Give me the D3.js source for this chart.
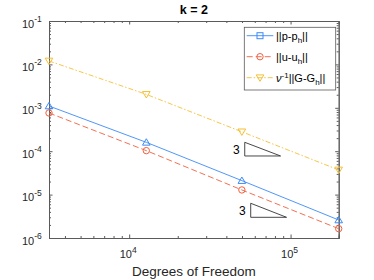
<!DOCTYPE html>
<html>
<head>
<meta charset="utf-8">
<title>k = 2</title>
<script src="https://cdnjs.cloudflare.com/ajax/libs/d3/7.8.5/d3.min.js"></script>
<style>
    body { margin: 0; background: #fff; }
    text { font-family: "Liberation Sans", Arial, sans-serif; }
</style>
</head>
<body>
<script>
    const width = 374
    const height = 280
    const margin = {left: 49, right: 35.3, top: 21, bottom: 42}

    const dofs = [3186, 12770, 49920, 198700]
    const errP = [1.1e-3, 1.6e-4, 2.1e-5, 2.6e-6]
    const errU = [7.6e-4, 1.03e-4, 1.28e-5, 1.64e-6]
    const errG = [1.2e-2, 2.04e-3, 2.8e-4, 3.7e-5]
    const yMajor = [-1, -2, -3, -4, -5, -6]
    const xMajor = [4, 5]
    // slope triangles: [log10 x left, log10 x right, log10 y bottom, log10 y top]
    const slopes = [[4.716, 4.938, -4.11, -3.795], [4.753, 4.975, -5.523, -5.2]]
    const slopeLabel = "3"

    const series = [
        {name: "p", vals: errP, color: "#3d8af7", dash: null, mark: "up", legMark: "square"},
        {name: "u", vals: errU, color: "#f0603f", dash: "6,3", mark: "circle", legMark: "circle"},
        {name: "G", vals: errG, color: "#f4bf35", dash: "5,2,1.5,2", mark: "down", legMark: "down"}
    ]

    const svg = d3.select("body").append("svg")
        .attr("width", width)
        .attr("height", height)

    const x = d3.scaleLog()
        .domain(d3.extent(dofs))
        .range([margin.left, width - margin.right])
    const y = d3.scaleLog()
        .domain([1e-6, 1e-1])
        .range([height - margin.bottom, margin.top])

    const axisColor = "#5a5a5a"

    function minorTicks(lo, hi) {
        let out = []
        for (let e = Math.floor(lo); e <= Math.ceil(hi); e++)
            for (let m = 2; m < 10; m++) {
                let v = m * Math.pow(10, e)
                if (Math.log10(v) >= lo && Math.log10(v) <= hi) out.push(v)
            }
        return out
    }
    const xd = x.domain().map(Math.log10)
    const xMinor = minorTicks(xd[0], xd[1])
    const yMinor = minorTicks(-6, -1)

    function styleAxis(g) {
        g.select(".domain").attr("stroke", axisColor)
        g.selectAll(".tick line").attr("stroke", axisColor)
    }

    const x0 = margin.left, x1 = width - margin.right
    const y0 = height - margin.bottom, y1 = margin.top

    // minor ticks on all four sides
    svg.append("g").attr("transform", `translate(0,${y0})`)
        .call(d3.axisBottom(x).tickValues(xMinor).tickSize(-2).tickFormat(""))
        .call(styleAxis)
    svg.append("g").attr("transform", `translate(0,${y1})`)
        .call(d3.axisTop(x).tickValues(xMinor).tickSize(-2).tickFormat(""))
        .call(styleAxis)
    svg.append("g").attr("transform", `translate(${x0},0)`)
        .call(d3.axisLeft(y).tickValues(yMinor).tickSize(-2).tickFormat(""))
        .call(styleAxis)
    svg.append("g").attr("transform", `translate(${x1},0)`)
        .call(d3.axisRight(y).tickValues(yMinor).tickSize(-2).tickFormat(""))
        .call(styleAxis)

    // major ticks
    svg.append("g").attr("transform", `translate(0,${y0})`)
        .call(d3.axisBottom(x).tickValues(xMajor.map(e => Math.pow(10, e))).tickSize(-3.5).tickFormat(""))
        .call(styleAxis)
    svg.append("g").attr("transform", `translate(0,${y1})`)
        .call(d3.axisTop(x).tickValues(xMajor.map(e => Math.pow(10, e))).tickSize(-3.5).tickFormat(""))
        .call(styleAxis)
    svg.append("g").attr("transform", `translate(${x0},0)`)
        .call(d3.axisLeft(y).tickValues(yMajor.map(e => Math.pow(10, e))).tickSize(-3.5).tickFormat(""))
        .call(styleAxis)
    svg.append("g").attr("transform", `translate(${x1},0)`)
        .call(d3.axisRight(y).tickValues(yMajor.map(e => Math.pow(10, e))).tickSize(-3.5).tickFormat(""))
        .call(styleAxis)

    // tick labels with superscripts
    xMajor.forEach(e => {
        let t = svg.append("text")
            .attr("x", x(Math.pow(10, e)) - 9.5)
            .attr("y", y0 + 20)
            .attr("font-size", 11)
            .attr("fill", "#262626")
        t.append("tspan").text("10")
        t.append("tspan").attr("dy", -5.5).attr("font-size", 8.5).text(e)
    })
    yMajor.forEach(e => {
        let t = svg.append("text")
            .attr("x", x0 - 27)
            .attr("y", y(Math.pow(10, e)) + 6.5)
            .attr("font-size", 11)
            .attr("fill", "#262626")
        t.append("tspan").text("10")
        t.append("tspan").attr("dy", -5.5).attr("font-size", 8.5).text(e)
    })

    // title and axis label
    svg.append("text")
        .attr("x", (x0 + x1) / 2)
        .attr("y", 14)
        .attr("text-anchor", "middle")
        .attr("font-size", 12.5)
        .attr("font-weight", "bold")
        .attr("fill", "#000")
        .text("k = 2")
    svg.append("text")
        .attr("x", (x0 + x1) / 2)
        .attr("y", 276)
        .attr("text-anchor", "middle")
        .attr("font-size", 13.5)
        .attr("fill", "#262626")
        .text("Degrees of Freedom")

    // markers
    function drawMarker(g, type, cx, cy, color) {
        if (type === "circle") {
            g.append("circle").attr("cx", cx).attr("cy", cy).attr("r", 3.2)
                .attr("fill", "none").attr("stroke", color)
        } else if (type === "square") {
            g.append("rect").attr("x", cx - 3).attr("y", cy - 3).attr("width", 6).attr("height", 6)
                .attr("fill", "none").attr("stroke", color)
        } else {
            let s = type === "up" ? -1 : 1
            g.append("path")
                .attr("d", `M${cx - 3.8},${cy - s * 2.8}L${cx + 3.8},${cy - s * 2.8}L${cx},${cy + s * 3.6}Z`)
                .attr("fill", "none").attr("stroke", color)
        }
    }

    const line = d3.line()
        .x(d => x(d[0]))
        .y(d => y(d[1]))

    series.forEach(s => {
        const pts = d3.zip(dofs, s.vals)
        svg.append("path")
            .attr("d", line(pts))
            .attr("fill", "none")
            .attr("stroke", s.color)
            .attr("stroke-width", 0.9)
            .attr("stroke-dasharray", s.dash)
        const g = svg.append("g")
        pts.forEach(p => drawMarker(g, s.mark, x(p[0]), y(p[1]), s.color))
    })

    // slope triangles
    slopes.forEach(t => {
        const [a, b, lo, hi] = t.map(v => Math.pow(10, v))
        svg.append("path")
            .attr("d", `M${x(a)},${y(hi)}L${x(a)},${y(lo)}L${x(b)},${y(lo)}Z`)
            .attr("fill", "none")
            .attr("stroke", "#333")
            .attr("stroke-width", 0.9)
        svg.append("text")
            .attr("x", x(a) - 5)
            .attr("y", (y(hi) + y(lo)) / 2 + 4.5)
            .attr("text-anchor", "end")
            .attr("font-size", 12)
            .attr("fill", "#000")
            .text(slopeLabel)
    })

    // legend
    const lg = svg.append("g")
    lg.append("rect")
        .attr("x", 244.3).attr("y", 27.3)
        .attr("width", 91.4).attr("height", 62.7)
        .attr("fill", "#fff")
        .attr("stroke", axisColor)
        .attr("stroke-width", 0.8)
    const legendLabels = [
        [["||p-p", 0], ["h", 3], ["||", -3]],
        [["||u-u", 0], ["h", 3], ["||", -3]],
        [["\u03BD", 0], ["-1", -4], ["||G-G", 4], ["h", 3], ["||", -3]]
    ]
    series.forEach((s, i) => {
        const cy = 35.7 + i * 21
        lg.append("line")
            .attr("x1", 246.7).attr("x2", 273.3)
            .attr("y1", cy).attr("y2", cy)
            .attr("stroke", s.color)
            .attr("stroke-width", 0.9)
            .attr("stroke-dasharray", s.dash)
        drawMarker(lg, s.legMark, 260, cy, s.color)
        const t = lg.append("text")
            .attr("x", 276)
            .attr("y", cy + 4)
            .attr("font-size", 11)
            .attr("fill", "#000")
        legendLabels[i].forEach(([txt, dy]) => {
            const small = txt === "h" || txt === "-1"
            const sp = t.append("tspan").attr("dy", dy).attr("font-size", small ? 8 : 11).text(txt)
            if (txt === "\u03BD") sp.attr("font-style", "italic")
        })
    })
</script>
</body>
</html>
